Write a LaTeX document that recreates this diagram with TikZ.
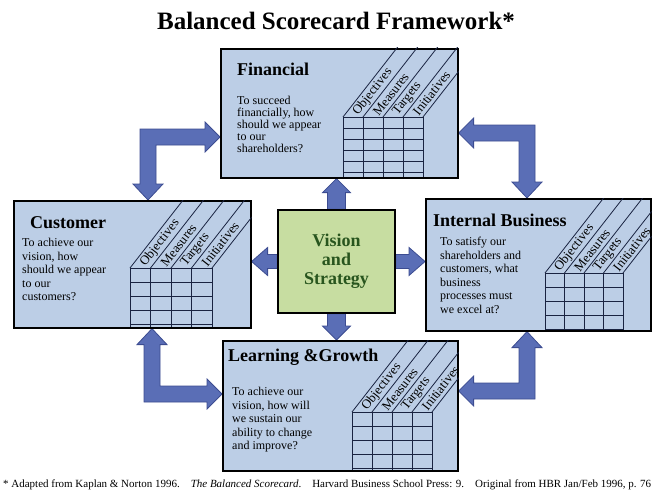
\documentclass[tikz,border=0pt]{standalone}
\usepackage{fontspec}
\usepackage{graphicx}
\setmainfont{Liberation Serif}
\usetikzlibrary{calc,backgrounds}
\definecolor{boxblue}{RGB}{188,206,230}
\definecolor{arrowblue}{RGB}{90,110,182}
\definecolor{arrowedge}{RGB}{60,76,145}
\definecolor{visgreen}{RGB}{199,221,161}
\definecolor{vistext}{RGB}{40,85,30}
\definecolor{gridcol}{RGB}{25,35,65}
\tikzset{
 scbox/.style={draw=black, line width=1.6pt, fill=boxblue, rectangle, inner sep=0pt, anchor=north west},
 visbox/.style={draw=black, line width=1.6pt, fill=visgreen, inner sep=0pt, minimum width=117pt, minimum height=103pt, align=center, font=\fontsize{18}{19}\selectfont\bfseries, text=vistext},
 blockarrow/.style={fill=arrowblue, draw=arrowedge, line width=0.8pt, line join=miter},
 gridline/.style={draw=gridcol, line width=0.8pt},
 boxtitle/.style={font=\fontsize{18}{20}\selectfont\bfseries, inner sep=0pt, anchor=base west},
 boxtext/.style={font=\fontsize{12}{13.5}\selectfont, align=left, inner sep=0pt, anchor=north west},
 headtext/.style={font=\fontsize{13}{13}\selectfont, inner sep=0pt, anchor=west, rotate=52},
}
% elbow block arrow: #1 horizontal tip, #2 vertical tip, #3 sx, #4 sy
\newcommand\elbowarrow[4]{%
 \coordinate (ec) at (#2 |- #1);
 \filldraw[blockarrow]
  ($(ec)+({-(#3)*8},{-(#4)*8})$) --
  ($(#1)+({-(#3)*15},{-(#4)*8})$) --
  ($(#1)+({-(#3)*15},{-(#4)*15})$) --
  (#1) --
  ($(#1)+({-(#3)*15},{(#4)*15})$) --
  ($(#1)+({-(#3)*15},{(#4)*8})$) --
  ($(ec)+({(#3)*8},{(#4)*8})$) --
  ($(#2)+({(#3)*8},{-(#4)*16})$) --
  ($(#2)+({(#3)*15},{-(#4)*16})$) --
  (#2) --
  ($(#2)+({-(#3)*15},{-(#4)*16})$) --
  ($(#2)+({-(#3)*8},{-(#4)*16})$) -- cycle;
}
% vertical block arrow: #1 tail, #2 tip, #3 direction (+1 down, -1 up)
\newcommand\varrow[3]{%
 \filldraw[blockarrow] ($(#1)+(-9,0)$) -- ($(#2)+(-9,{-(#3)*14})$) -- ($(#2)+(-14,{-(#3)*14})$) -- (#2) -- ($(#2)+(14,{-(#3)*14})$) -- ($(#2)+(9,{-(#3)*14})$) -- ($(#1)+(9,0)$) -- cycle;}
% horizontal block arrow: #1 tail, #2 tip, #3 direction (+1 right, -1 left)
\newcommand\harrow[3]{%
 \filldraw[blockarrow] ($(#1)+(0,-7)$) -- ($(#2)+({-(#3)*16},-7)$) -- ($(#2)+({-(#3)*16},-14)$) -- (#2) -- ($(#2)+({-(#3)*16},14)$) -- ($(#2)+({-(#3)*16},7)$) -- ($(#1)+(0,7)$) -- cycle;}
% scorecard grid: #1 box, #2 x off, #3 y off, #4 col width, #5 row height, #6 grid height
\newcommand\scgrid[6]{%
 \coordinate (#1g) at ($(#1.north west)+(#2,#3)$);
 \begin{scope}
  \clip (#1.north west) rectangle (#1.south east);
  \foreach \i in {0,...,4} {
    \draw[gridline] ($(#1g)+({\i*#4},0)$) -- ++(0,#6);
    \draw[gridline] ($(#1g)+({\i*#4},0)$) -- ++(-52:120);
  }
  \foreach \r in {0,#5,...,#6} {
    \draw[gridline] ($(#1g)+(0,\r)$) -- ++({4*#4},0);
  }
 \end{scope}
 \foreach \t [count=\i from 0] in {Objectives,Measures,Targets,Initiatives} {
   \node[headtext] (#1h\i) at ($(#1g)+({(\i+0.5)*#4},0)+(-52:4)$) {\t};
 }
}
\begin{document}
\begin{tikzpicture}[x=1pt,y=-1pt]
\useasboundingbox (0,0) rectangle (653,495);

\node[font=\fontsize{25}{28}\selectfont\bfseries, anchor=base, inner sep=0pt] (title) at (336,30) {Balanced Scorecard Framework*};

% boxes
\node[scbox, minimum width=237pt, minimum height=129pt] (fin) at (220,48) {};
\node[scbox, minimum width=237pt, minimum height=127pt] (cus) at (13,200) {};
\node[scbox, minimum width=225pt, minimum height=132pt] (int) at (425,198) {};
\node[scbox, minimum width=235pt, minimum height=130pt] (lrn) at (222,340) {};
\node[visbox] (vis) at (336.5,261.5) {Vision\\and\\Strategy};

% grids
\scgrid{fin}{123}{69}{20}{11}{60}
\scgrid{cus}{117}{68}{20.5}{14}{59}
\scgrid{int}{120}{75}{19.5}{14}{57}
\scgrid{lrn}{130}{72}{20}{14}{58}

% titles and texts
\node[boxtitle] (finT) at ($(fin.north west)+(17,28)$) {Financial};
\node[boxtext, font=\fontsize{12}{12}\selectfont] (finD) at ($(fin.north west)+(17,48)$) {To succeed\\financially, how\\should we appear\\to our\\shareholders?};
\node[boxtitle] (cusT) at ($(cus.north west)+(17,28)$) {Customer};
\node[boxtext] (cusD) at ($(cus.north west)+(9,38)$) {To achieve our\\vision, how\\should we appear\\to our\\customers?};
\node[boxtitle] (intT) at ($(int.north west)+(8,28)$) {Internal Business};
\node[boxtext] (intD) at ($(int.north west)+(15,39)$) {To satisfy our\\shareholders and\\customers, what\\business\\processes must\\we excel at?};
\node[boxtitle] (lrnT) at ($(lrn.north west)+(6,21)$) {Learning \&Growth};
\node[boxtext] (lrnD) at ($(lrn.north west)+(10,47)$) {To achieve our\\vision, how will\\we sustain our\\ability to change\\and improve?};

% footnote
\node[anchor=base west, inner sep=0pt] (foot) at (3,487) {\resizebox{648pt}{!}{\fontsize{10}{12}\selectfont * Adapted from Kaplan \& Norton 1996.\quad \textit{The Balanced Scorecard}.\quad Harvard Business School Press: 9.\quad Original from HBR Jan/Feb 1996, p. 76}};

% arrow tips
\coordinate (tlH) at (fin.west |- 0,137);
\coordinate (tlV) at (cus.north -| 148,0);
\coordinate (trH) at (fin.east |- 0,133);
\coordinate (trV) at (int.north -| 527,0);
\coordinate (blH) at (lrn.west |- 0,394);
\coordinate (blV) at (cus.south -| 152,0);
\coordinate (brH) at (lrn.east |- 0,391);
\coordinate (brV) at (int.south -| 527,0);
\coordinate (upT) at (vis.north |- fin.south);
\coordinate (dnT) at (vis.south |- lrn.north);
\coordinate (lfT) at (cus.east |- vis.west);
\coordinate (rtT) at (int.west |- vis.east);

\begin{scope}[on background layer]
 \fill[white] (0,0) rectangle (653,495);
 \elbowarrow{tlH}{tlV}{1}{1}
 \elbowarrow{trH}{trV}{-1}{1}
 \elbowarrow{blH}{blV}{1}{-1}
 \elbowarrow{brH}{brV}{-1}{-1}
 \varrow{vis.north}{upT}{-1}
 \varrow{vis.south}{dnT}{1}
 \harrow{vis.west}{lfT}{-1}
 \harrow{vis.east}{rtT}{1}
\end{scope}
\end{tikzpicture}
\end{document}
